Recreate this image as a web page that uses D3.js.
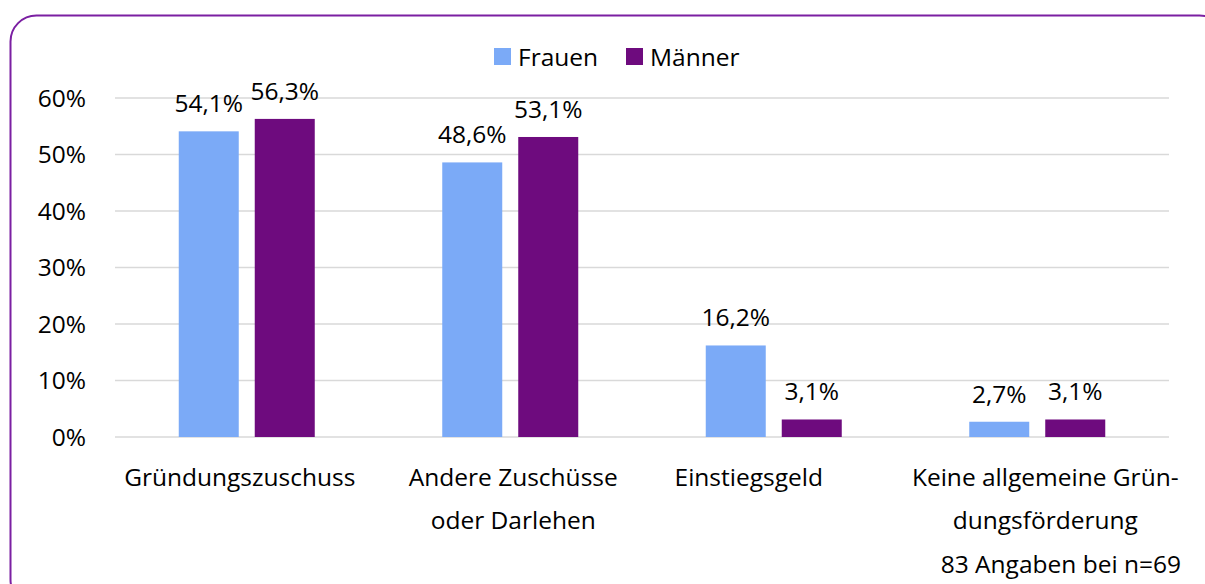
<!DOCTYPE html>
<html><head><meta charset="utf-8">
<script src="https://cdn.jsdelivr.net/npm/d3@7"></script>
<style>
html,body{margin:0;padding:0;background:#fff;}
svg{display:block;}
text{font-family:"Open Sans",sans-serif;fill:#000;}
</style></head>
<body>
<svg id="chart" width="1205" height="584"></svg>
<script>
const categories = [["Gründungszuschuss"], ["Andere Zuschüsse", "oder Darlehen"], ["Einstiegsgeld"], ["Keine allgemeine Grün-", "dungsförderung"]];
const seriesNames = ["Frauen", "Männer"];
const frauen = [54.1, 48.6, 16.2, 2.7];
const maenner = [56.3, 53.1, 3.1, 3.1];
const yTicks = [0, 10, 20, 30, 40, 50, 60];
const note = "83 Angaben bei n=69";
const colors = ["#7BAAF7", "#6E0B7E"];

(function(){
const svg = d3.select("#chart");
const fs = 24.5;
const labelShift = [-7, 3, -25, 8];

// border
svg.append("rect").attr("x", 10.5).attr("y", 15.5).attr("width", 1215).attr("height", 590)
  .attr("rx", 26).attr("ry", 26).attr("fill", "#fff").attr("stroke", "#7B1FA2").attr("stroke-width", 2);

const pl = 115, pr = 1169, pt = 98, pb = 437;
const x = d3.scaleBand().domain(d3.range(categories.length)).range([pl, pr]);
const y = d3.scaleLinear().domain([0, 60]).range([pb, pt]);

// gridlines
svg.append("g").selectAll("line").data(yTicks).join("line")
  .attr("x1", pl).attr("x2", pr).attr("y1", d => y(d)).attr("y2", d => y(d))
  .attr("stroke", "#d9d9d9").attr("stroke-width", 1.5);

// y labels
svg.append("g").selectAll("text").data(yTicks).join("text")
  .attr("x", 86).attr("y", d => y(d)).attr("dy", "0.35em").attr("text-anchor", "end")
  .attr("font-size", fs).text(d => d + "%");

const barW = 60, gap = 16;
const xs = d3.scaleBand().domain([0, 1]).range([0, barW * 2 + gap]).paddingInner(gap / (barW + gap));
const data = [];
categories.forEach((c, i) => {
  [frauen[i], maenner[i]].forEach((v, s) => data.push({i, s, v}));
});
const gx = i => x(i) + x.bandwidth() / 2 - (barW * 2 + gap) / 2;

svg.append("g").selectAll("rect").data(data).join("rect")
  .attr("x", d => gx(d.i) + xs(d.s)).attr("width", xs.bandwidth())
  .attr("y", d => y(d.v)).attr("height", d => y(0) - y(d.v))
  .attr("fill", d => colors[d.s]);

const fmt = v => v.toFixed(1).replace(".", ",") + "%";
svg.append("g").selectAll("text").data(data).join("text")
  .attr("x", d => gx(d.i) + xs(d.s) + xs.bandwidth() / 2)
  .attr("y", d => y(d.v) - 19).attr("text-anchor", "middle")
  .attr("font-size", fs).text(d => fmt(d.v));

// category labels
const cg = svg.append("g");
categories.forEach((lines, i) => {
  const t = cg.append("text").attr("text-anchor", "middle").attr("font-size", fs);
  lines.forEach((l, k) => {
    t.append("tspan").attr("x", x(i) + x.bandwidth() / 2 + labelShift[i]).attr("y", 486 + k * 43).text(l);
  });
});

// legend
const lg = svg.append("g");
const lx = [494, 626];
seriesNames.forEach((n, s) => {
  lg.append("rect").attr("x", lx[s]).attr("y", 48).attr("width", 17).attr("height", 17).attr("fill", colors[s]);
  lg.append("text").attr("x", lx[s] + 24).attr("y", 57).attr("dy", "0.35em").attr("font-size", fs).text(n);
});

svg.append("text").attr("x", 1181).attr("y", 573).attr("text-anchor", "end").attr("font-size", fs).text(note);
})();
</script>
</body></html>
